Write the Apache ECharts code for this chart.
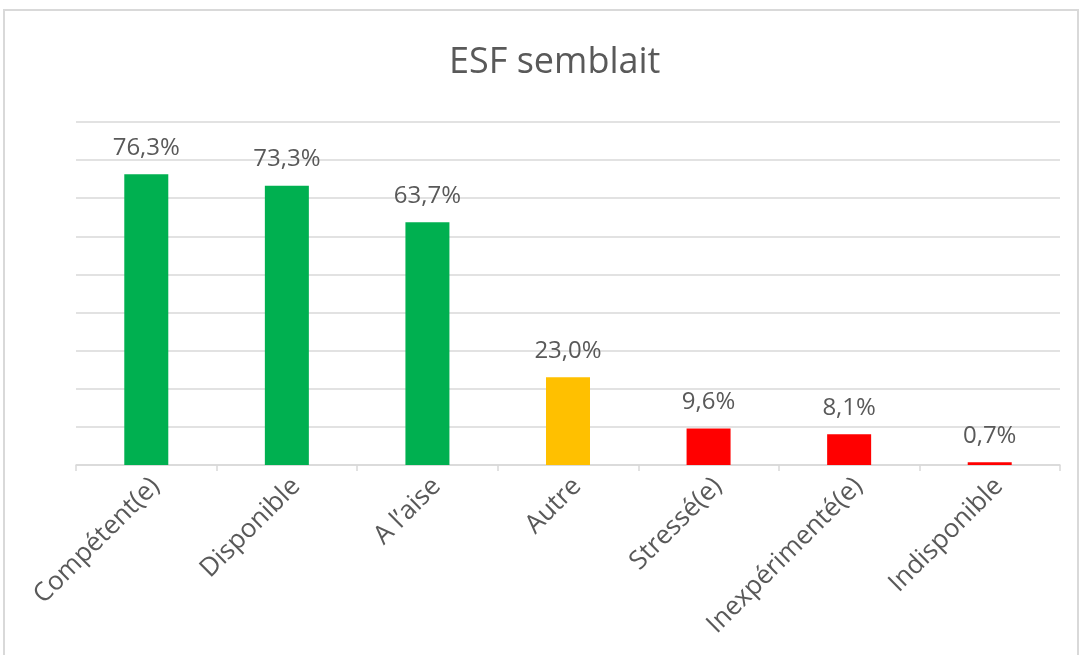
<!DOCTYPE html>
<html>
<head>
<meta charset="utf-8">
<script src="https://cdn.jsdelivr.net/npm/echarts@6/dist/echarts.min.js"></script>
<style>
  html, body { margin: 0; padding: 0; background: #fff; }
  #main { width: 1084px; height: 655px; }
</style>
</head>
<body>
<div id="main"></div>
<script>
var categories = ['Compétent(e)', 'Disponible', 'A l\u2019aise', 'Autre', 'Stressé(e)', 'Inexpérimenté(e)', 'Indisponible'];
var values = [76.3, 73.3, 63.7, 23.0, 9.6, 8.1, 0.7];
var barColors = ['#00B050', '#00B050', '#00B050', '#FFC000', '#FF0000', '#FF0000', '#FF0000'];

var chart = echarts.init(document.getElementById('main'));
var font = '"Open Sans", "Noto Sans", sans-serif';

var option = {
    backgroundColor: '#fff',
    animation: false,
    graphic: [{
        type: 'rect',
        shape: { x: 4, y: 10, width: 1074, height: 660 },
        style: { fill: 'none', stroke: '#d9d9d9', lineWidth: 2 },
        z: -1
    }],
    title: {
        text: 'ESF semblait',
        left: 444,
        top: 40,
        textStyle: { color: '#595959', fontSize: 36, fontWeight: 'normal', fontFamily: font }
    },
    grid: { left: 76, right: 24, top: 122, bottom: 190 },
    xAxis: {
        type: 'category',
        data: categories,
        axisLine: { lineStyle: { color: '#d9d9d9', width: 1.5 } },
        axisTick: { show: true, length: 6, lineStyle: { color: '#d9d9d9', width: 1.5 } },
        axisLabel: {
            rotate: 45,
            interval: 0,
            margin: 8,
            verticalAlign: 'top',
            color: '#595959',
            fontSize: 26,
            fontFamily: font
        }
    },
    yAxis: {
        type: 'value',
        min: 0,
        max: 90,
        interval: 10,
        axisLabel: { show: false },
        axisLine: { show: false },
        axisTick: { show: false },
        splitLine: { lineStyle: { color: '#d9d9d9', width: 1.5 } }
    },
    series: [{
        type: 'bar',
        barWidth: 44,
        data: values.map(function (v, i) {
            return { value: v, itemStyle: { color: barColors[i] } };
        }),
        label: {
            show: true,
            position: 'top',
            distance: 14,
            color: '#595959',
            fontSize: 24,
            fontFamily: font,
            formatter: function (p) {
                return p.value.toFixed(1).replace('.', ',') + '%';
            }
        }
    }]
};
chart.setOption(option);
</script>
</body>
</html>
